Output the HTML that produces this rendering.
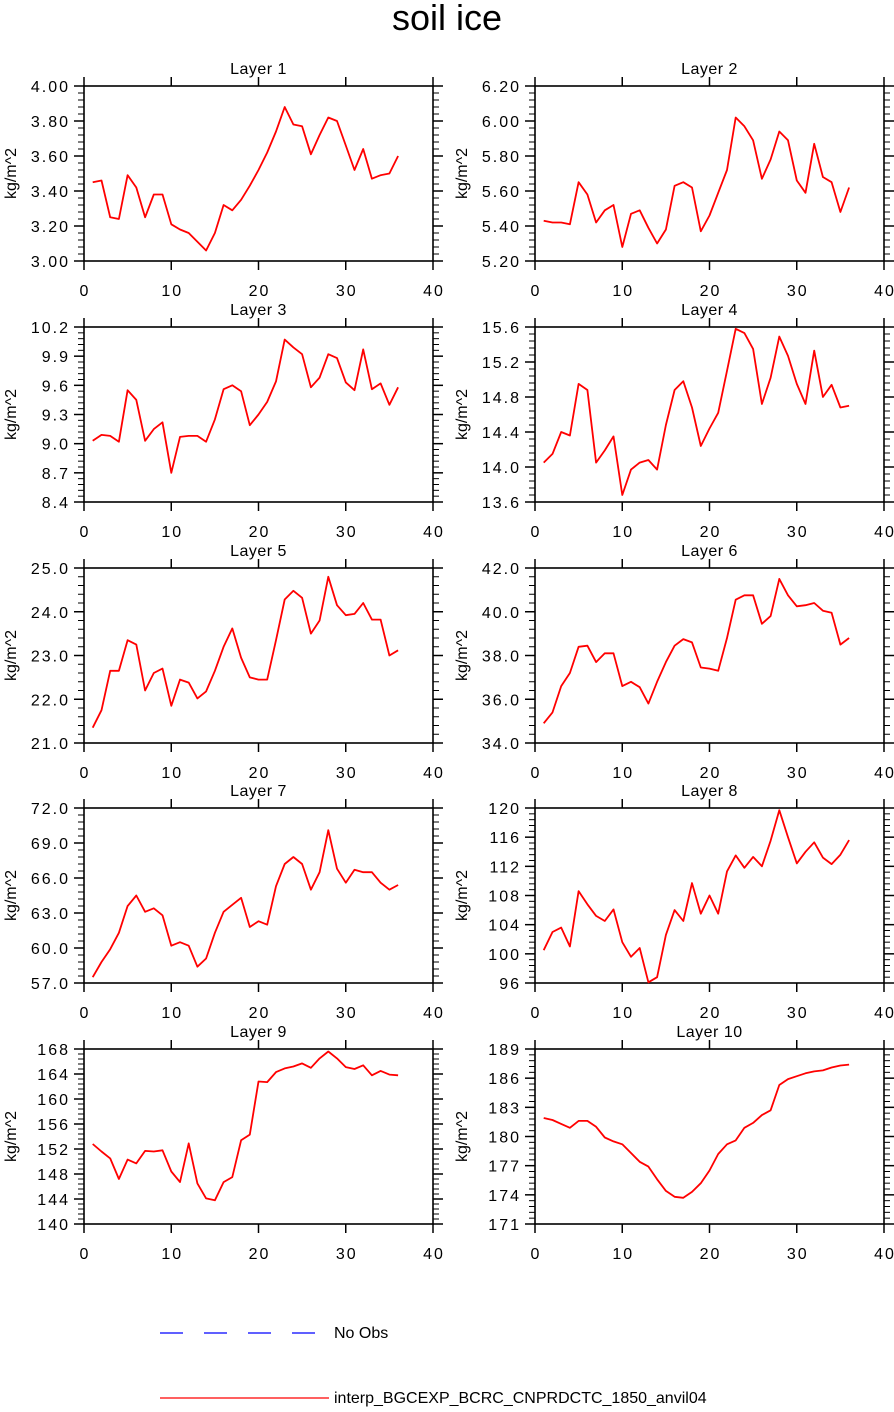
<!DOCTYPE html>
<html><head><meta charset="utf-8"><style>
body{margin:0;background:#fff}
svg text{font-family:"Liberation Sans",sans-serif;fill:#000}
</style></head><body>
<svg id="c" width="894" height="1407" xmlns="http://www.w3.org/2000/svg">
<text x="447" y="30" font-size="36" text-anchor="middle">soil ice</text>
<g>
<line x1="160" y1="1333" x2="316" y2="1333" stroke="#0000ff" stroke-width="1.3" stroke-dasharray="23,21"/>
<text x="334" y="1338" font-size="16">No Obs</text>
<line x1="160" y1="1398" x2="329" y2="1398" stroke="#ff0000" stroke-width="1.3"/>
<text x="334" y="1403" font-size="16">interp_BGCEXP_BCRC_CNPRDCTC_1850_anvil04</text>
</g>
</svg>
<script>
const xs = [1,2,3,4,5,6,7,8,9,10,11,12,13,14,15,16,17,18,19,20,21,22,23,24,25,26,27,28,29,30,31,32,33,34,35,36];
const xTicks = [0,10,20,30,40];
const layer1 = [3.45,3.46,3.25,3.24,3.49,3.42,3.25,3.38,3.38,3.21,3.18,3.16,3.11,3.06,3.16,3.32,3.29,3.35,3.43,3.52,3.62,3.74,3.88,3.78,3.77,3.61,3.72,3.82,3.80,3.66,3.52,3.64,3.47,3.49,3.50,3.60];
const layer2 = [5.43,5.42,5.42,5.41,5.65,5.58,5.42,5.49,5.52,5.28,5.47,5.49,5.39,5.30,5.38,5.63,5.65,5.62,5.37,5.46,5.59,5.72,6.02,5.97,5.89,5.67,5.78,5.94,5.89,5.66,5.59,5.87,5.68,5.65,5.48,5.62];
const layer3 = [9.03,9.09,9.08,9.02,9.55,9.45,9.03,9.15,9.22,8.70,9.07,9.08,9.08,9.02,9.25,9.56,9.60,9.54,9.19,9.30,9.43,9.64,10.07,9.99,9.92,9.58,9.68,9.92,9.88,9.63,9.55,9.97,9.56,9.62,9.40,9.58];
const layer4 = [14.05,14.15,14.40,14.36,14.95,14.88,14.05,14.19,14.35,13.68,13.97,14.05,14.08,13.97,14.48,14.88,14.98,14.68,14.24,14.44,14.62,15.10,15.58,15.53,15.35,14.72,15.02,15.49,15.27,14.95,14.72,15.33,14.80,14.94,14.68,14.70];
const layer5 = [21.35,21.75,22.65,22.65,23.35,23.25,22.2,22.6,22.7,21.85,22.45,22.38,22.02,22.18,22.65,23.20,23.62,22.95,22.50,22.45,22.45,23.35,24.28,24.48,24.32,23.50,23.80,24.80,24.15,23.92,23.95,24.20,23.82,23.82,23.00,23.12];
const layer6 = [34.9,35.4,36.6,37.2,38.4,38.45,37.7,38.1,38.1,36.6,36.8,36.55,35.8,36.8,37.7,38.45,38.75,38.6,37.45,37.4,37.3,38.8,40.55,40.75,40.75,39.45,39.8,41.5,40.75,40.25,40.3,40.4,40.05,39.95,38.5,38.8];
const layer7 = [57.5,58.8,59.9,61.3,63.6,64.5,63.1,63.4,62.8,60.2,60.5,60.2,58.4,59.1,61.3,63.1,63.7,64.3,61.8,62.3,62.0,65.3,67.2,67.8,67.2,65.0,66.5,70.1,66.8,65.6,66.7,66.5,66.5,65.6,65.0,65.4];
const layer8 = [100.5,103,103.6,101,108.6,106.8,105.2,104.5,106.1,101.6,99.6,100.8,96.1,96.8,102.6,106.0,104.5,109.7,105.5,108.0,105.5,111.3,113.5,111.8,113.3,112.0,115.5,119.7,116.0,112.4,114.0,115.3,113.2,112.3,113.6,115.6];
const layer9 = [152.8,151.6,150.5,147.2,150.3,149.7,151.7,151.6,151.8,148.4,146.7,152.9,146.5,144.1,143.8,146.7,147.5,153.4,154.3,162.8,162.7,164.3,164.9,165.2,165.7,165.0,166.5,167.6,166.5,165.1,164.8,165.4,163.8,164.5,163.9,163.8];
const layer10 = [181.9,181.7,181.3,180.9,181.6,181.6,181.0,179.9,179.5,179.2,178.3,177.4,176.9,175.6,174.4,173.8,173.7,174.3,175.2,176.5,178.2,179.2,179.6,180.9,181.4,182.2,182.7,185.3,185.9,186.2,186.5,186.7,186.8,187.1,187.3,187.4];
const yTicks1 = ["3.00","3.20","3.40","3.60","3.80","4.00"];
const yTicks2 = ["5.20","5.40","5.60","5.80","6.00","6.20"];
const yTicks3 = ["8.4","8.7","9.0","9.3","9.6","9.9","10.2"];
const yTicks4 = ["13.6","14.0","14.4","14.8","15.2","15.6"];
const yTicks5 = ["21.0","22.0","23.0","24.0","25.0"];
const yTicks6 = ["34.0","36.0","38.0","40.0","42.0"];
const yTicks7 = ["57.0","60.0","63.0","66.0","69.0","72.0"];
const yTicks8 = ["96","100","104","108","112","116","120"];
const yTicks9 = ["140","144","148","152","156","160","164","168"];
const yTicks10 = ["171","174","177","180","183","186","189"];

const panels = [
 [layer1,yTicks1],[layer2,yTicks2],[layer3,yTicks3],[layer4,yTicks4],[layer5,yTicks5],
 [layer6,yTicks6],[layer7,yTicks7],[layer8,yTicks8],[layer9,yTicks9],[layer10,yTicks10]];
const NS="http://www.w3.org/2000/svg";
const svg=document.getElementById('c');
function mk(tag,attrs,parent){const e=document.createElementNS(NS,tag);for(const k in attrs)e.setAttribute(k,attrs[k]);parent.appendChild(e);return e;}
const colX=[84,535], rowY=[86,327,568,808,1049], W=349, H=175;
panels.forEach((p,i)=>{
  const data=p[0], ticks=p[1];
  const L=colX[i%2], T=rowY[Math.floor(i/2)], R=L+W, B=T+H;
  const ymin=parseFloat(ticks[0]), ymax=parseFloat(ticks[ticks.length-1]);
  const sx=v=>L+(v-0)/(40-0)*W;
  const sy=v=>B-(v-ymin)/(ymax-ymin)*H;
  const g=mk('g',{},svg);
  
  
  const t=mk('text',{x:(L+R)/2,y:T-12,'font-size':16,'letter-spacing':0.5,'text-anchor':'middle'},g);
  t.textContent='Layer '+(i+1);
  
  
  const yl=mk('text',{x:0,y:0,'font-size':16,'text-anchor':'middle',transform:`translate(${L-68},${(T+B)/2}) rotate(-90)`},g);
  yl.textContent='kg/m^2';
  
  
  const step=(ymax-ymin)/(ticks.length-1);
  for(let k=0;k<(ticks.length-1)*5;k++){
    if(k%5===0) continue;
    const y=sy(ymin+k*step/5);
    mk('line',{x1:L-6,y1:y,x2:L,y2:y,stroke:'#000','stroke-width':1},g);
    mk('line',{x1:R,y1:y,x2:R+6,y2:y,stroke:'#000','stroke-width':1},g);
  }
  ticks.forEach(tv=>{
    const y=sy(parseFloat(tv));
    mk('line',{x1:L-10,y1:y,x2:L,y2:y,stroke:'#000','stroke-width':1.5},g);
    mk('line',{x1:R,y1:y,x2:R+10,y2:y,stroke:'#000','stroke-width':1.5},g);
    const lt=mk('text',{x:L-14,y:y+6,'font-size':16,'letter-spacing':2,'text-anchor':'end'},g);
    lt.textContent=tv;
    
    
  });
  xTicks.forEach(xv=>{
    const x=sx(xv);
    mk('line',{x1:x,y1:B,x2:x,y2:B+9,stroke:'#000','stroke-width':1.5},g);
    mk('line',{x1:x,y1:T-9,x2:x,y2:T,stroke:'#000','stroke-width':1.5},g);
    const lt=mk('text',{x:x+1,y:B+35,'font-size':16,'letter-spacing':2,'text-anchor':'middle'},g);
    lt.textContent=xv;
    
    
  });
  const fr=mk('rect',{x:L,y:T,width:W,height:H,fill:'none',stroke:'#000','stroke-width':1.6},g);
  
  
  const pts=data.map((v,j)=>sx(xs[j]).toFixed(1)+','+sy(v).toFixed(1)).join(' ');
  const pl=mk('polyline',{points:pts,fill:'none',stroke:'#ff0000','stroke-width':1.8,'stroke-linejoin':'round'},g);
  
  
});
</script>
</body></html>
